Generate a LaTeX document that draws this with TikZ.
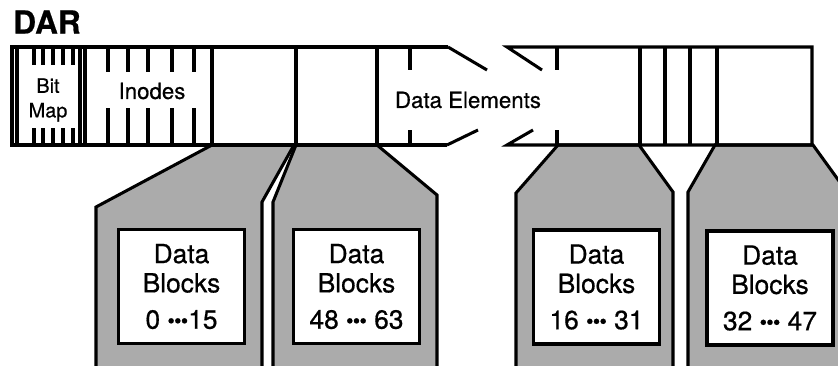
\documentclass[tikz,border=0pt]{standalone}
\usepackage{fontspec}
\setmainfont{TeX Gyre Heros}[FakeBold=0.6]

\newcommand{\blkdots}{\raisebox{0.5pt}{\fontsize{18}{18}\selectfont\textbullet\kern-0.6pt\textbullet\kern-0.6pt\textbullet}}

\begin{document}
\begin{tikzpicture}[
  x=0.03cm, y=-0.03cm,
  line width=2.6pt,
  every node/.style={inner sep=0pt},
  tab/.style={fill=black!33, draw=black, line width=2.6pt},
  blk/.style={draw=black, fill=white, line width=2.6pt, minimum width=3.78cm,
    minimum height=3.42cm, align=center,
    font=\fontsize{22.5}{25}\selectfont}]

  \useasboundingbox (0,0) rectangle (838,366);

  \draw[tab] (212,145) -- (294,145) -- (262,202) -- (262,380) -- (96,380) -- (96,207) -- cycle;
  \draw[tab] (296,145) -- (377,145) -- (437,195) -- (437,380) -- (273,380) -- (273,202) -- cycle;
  \draw[tab] (558,145) -- (639,145) -- (673,192) -- (673,380) -- (516,380) -- (516,193) -- cycle;
  \draw[tab] (715,145) -- (813,145) -- (847,192) -- (847,380) -- (688,380) -- (688,192) -- cycle;

  \draw (448,47) -- (12,47) -- (12,145) -- (447,145);
  \draw (448,47) -- (487,70);
  \draw (447,145) -- (478,130);
  \draw (542,70) -- (507,47) -- (812,47) -- (812,145) -- (507,145) -- (533,130);

  \foreach \x in {17,80,85,212,296,377,640,665,690,717}
    \draw (\x,47) -- (\x,145);
  \foreach \x in {34,43,53,63,73} {
    \draw (\x,47) -- (\x,65);
    \draw (\x,128) -- (\x,145);
  }
  \foreach \x in {108,128,148,172,194} {
    \draw (\x,47) -- (\x,72);
    \draw (\x,108) -- (\x,145);
  }
  \foreach \x in {410,557} {
    \draw (\x,47) -- (\x,70);
    \draw (\x,130) -- (\x,145);
  }

  \node[font=\fontsize{27}{27}\selectfont\bfseries] (dar) at (47,22) {DAR};
  \node[font=\fontsize{17}{21}\selectfont, align=center] (bitmap) at (48,100) {Bit\\Map};
  \node[font=\fontsize{19}{20}\selectfont] (inodes) at (152,91) {Inodes};
  \node[font=\fontsize{19}{20}\selectfont] (elems) at (468,100) {Data Elements};

  \node[blk] (blkA) at (181.5,286.5) {Data\\Blocks\\[6pt]0 \blkdots15};
  \node[blk] (blkB) at (356.5,286.5) {Data\\Blocks\\[6pt]48 \blkdots{} 63};
  \node[blk] (blkC) at (596.5,287) {Data\\Blocks\\[6pt]16 \blkdots{} 31};
  \node[blk] (blkD) at (770,288) {Data\\Blocks\\[6pt]32 \blkdots{} 47};

\end{tikzpicture}
\end{document}
